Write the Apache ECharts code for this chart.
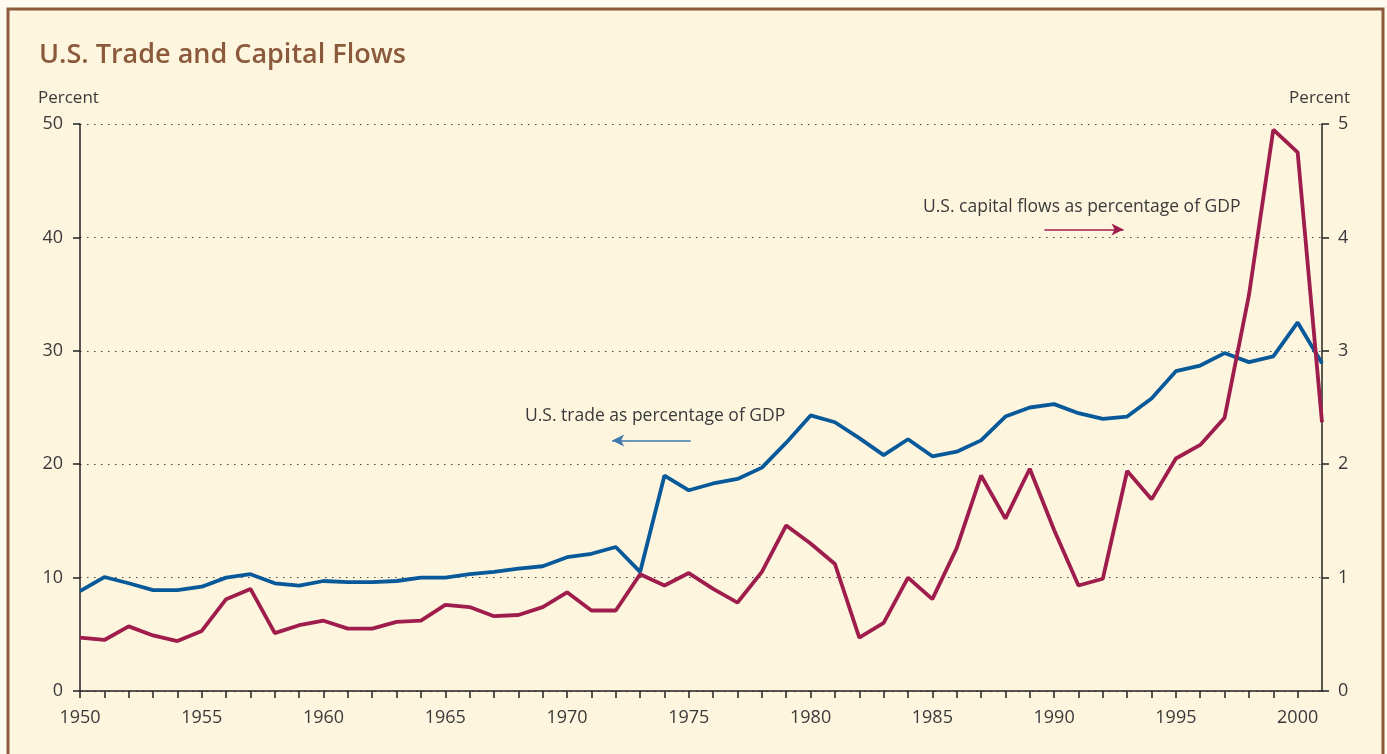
<!DOCTYPE html>
<html><head><meta charset="utf-8">
<script src="https://cdn.jsdelivr.net/npm/echarts@6/dist/echarts.min.js"></script>
<style>html,body{margin:0;padding:0;background:#fffaf0;}#c{width:1387px;height:754px;}</style>
</head><body><div id="c"></div>
<script>
var years = [];
for (var y = 1950; y <= 2001; y++) years.push(y);
var tradePct = [8.8,10.05,9.5,8.9,8.9,9.2,10.0,10.3,9.5,9.3,9.7,9.6,9.6,9.7,10.0,10.0,10.3,10.5,10.8,11.0,11.8,12.1,12.7,10.5,19.0,17.7,18.3,18.7,19.7,21.9,24.3,23.7,22.3,20.8,22.2,20.7,21.1,22.1,24.2,25.0,25.3,24.5,24.0,24.2,25.8,28.2,28.7,29.8,29.0,29.5,32.5,28.9];
var capitalPct = [0.47,0.45,0.57,0.49,0.44,0.53,0.81,0.90,0.51,0.58,0.62,0.55,0.55,0.61,0.62,0.76,0.74,0.66,0.67,0.74,0.87,0.71,0.71,1.03,0.93,1.04,0.90,0.78,1.05,1.46,1.30,1.12,0.47,0.60,1.00,0.81,1.26,1.90,1.52,1.96,1.42,0.93,0.99,1.94,1.69,2.05,2.17,2.41,3.49,4.95,4.75,2.37];
var leftTicks = [0,10,20,30,40,50];
var rightTicks = [0,1,2,3,4,5];
var title = 'U.S. Trade and Capital Flows';
var tradeLabel = 'U.S. trade as percentage of GDP';
var capLabel = 'U.S. capital flows as percentage of GDP';

var chart = echarts.init(document.getElementById('c'));
var FONT = '"Open Sans", sans-serif';
var axisCol = '#222';
var textCol = '#3a3a3a';
var blue = '#07599a';
var red = '#9f1d4c';

function pairs(arr){ return arr.map(function(v,i){ return [years[i], v]; }); }

chart.setOption({
  backgroundColor: '#fffaf0',
  animation: false,
  textStyle: {fontFamily: FONT},
  graphic: [
    {type:'rect', shape:{x:8, y:9, width:1375, height:760}, style:{fill:'#fdf5de', stroke:'#8b5a3c', lineWidth:3}, z:-10},
    {type:'text', left:39, top:42, style:{text:title, font:'600 27px "Open Sans", sans-serif', fill:'#8b5a3c'}},
    {type:'text', left:38, top:90, style:{text:'Percent', font:'17px "Open Sans", sans-serif', fill:textCol}},
    {type:'text', right:37, top:90, style:{text:'Percent', font:'17px "Open Sans", sans-serif', fill:textCol}},
    {type:'text', left:525, top:407, style:{text:tradeLabel, font:'17.5px "Open Sans", sans-serif', fill:textCol}},
    {type:'text', left:923, top:198, style:{text:capLabel, font:'17.5px "Open Sans", sans-serif', fill:textCol}}
  ],
  grid: {left:80, right:65, top:124, bottom:63},
  xAxis: {
    type:'value', min:1950, max:2001, interval:1,
    axisLine:{show:true, lineStyle:{color:axisCol, width:1.5}},
    axisTick:{show:true, length:7, lineStyle:{color:axisCol, width:1.5}},
    axisLabel:{color:textCol, fontSize:18, fontFamily:FONT, margin:18, showMaxLabel:false,
      formatter:function(v){ return v % 5 === 0 ? String(v) : ''; }},
    splitLine:{show:false}
  },
  yAxis: [
    {type:'value', min:leftTicks[0], max:leftTicks[leftTicks.length-1], interval:10, position:'left',
      axisLine:{show:true, lineStyle:{color:axisCol, width:1.5}},
      axisTick:{show:true, length:7, lineStyle:{color:axisCol, width:1.5}},
      axisLabel:{color:textCol, fontSize:18, fontFamily:FONT, margin:17},
      splitLine:{show:true, lineStyle:{color:'#444', type:[1.5,5.5], width:1.2}}},
    {type:'value', min:rightTicks[0], max:rightTicks[rightTicks.length-1], interval:1, position:'right',
      axisLine:{show:true, lineStyle:{color:axisCol, width:1.5}},
      axisTick:{show:true, length:7, lineStyle:{color:axisCol, width:1.5}},
      axisLabel:{color:textCol, fontSize:18, fontFamily:FONT, margin:16},
      splitLine:{show:false}}
  ],
  series: [
    {name:tradeLabel, type:'line', yAxisIndex:0, data:pairs(tradePct), showSymbol:false, symbol:'none',
      lineStyle:{color:blue, width:3.8}, z:3,
      markLine:{silent:true, symbol:['none','arrow'], symbolSize:[9,12], label:{show:false},
        lineStyle:{color:'#3f78ad', width:1.5, type:'solid'},
        data:[[{coord:[1975.08,22.1]},{coord:[1971.85,22.1]}]]}},
    {name:capLabel, type:'line', yAxisIndex:1, data:pairs(capitalPct), showSymbol:false, symbol:'none',
      lineStyle:{color:red, width:3.8}, z:4,
      markLine:{silent:true, symbol:['none','arrow'], symbolSize:[9,12], label:{show:false},
        lineStyle:{color:red, width:1.5, type:'solid'},
        data:[[{coord:[1989.6,4.07]},{coord:[1992.85,4.07]}]]}}
  ]
});
</script></body></html>
